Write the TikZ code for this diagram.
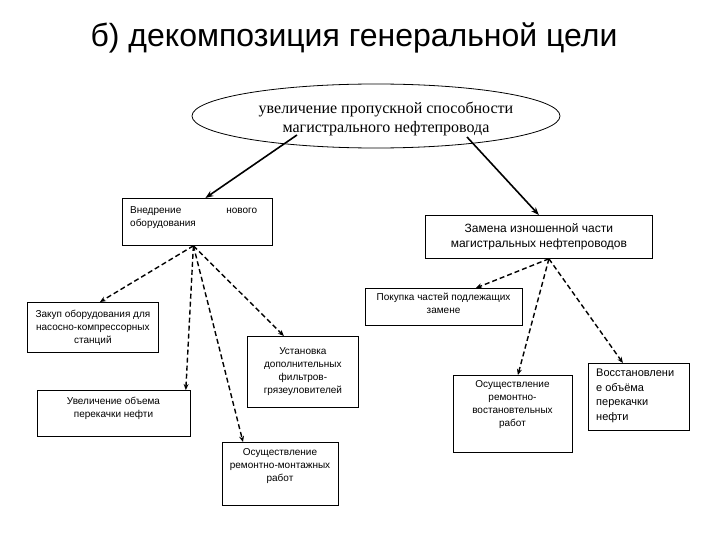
\documentclass[tikz,border=0pt]{standalone}
\usepackage{fontspec}
\setmainfont{Liberation Sans}
\newfontfamily\serifru{Liberation Serif}
\usetikzlibrary{arrows.meta,shapes.geometric}

\tikzset{
  box/.style={draw, line width=0.8pt, anchor=north west, inner sep=0pt},
  txt/.style={align=center, inner sep=0pt, font=\fontsize{10}{13}\selectfont},
  main/.style={line width=1.6pt, -{Stealth[length=8pt,width=6pt]}},
  sub/.style={line width=1.4pt, dash pattern=on 5pt off 3pt, -{Stealth[length=6pt,width=5pt]}},
}

\begin{document}
\begin{tikzpicture}[x=1pt,y=-1pt]
	\useasboundingbox [fill=white] (0,0) rectangle (720,540);
	% Ueberschrift
	\node (title) at (354,38) {\fontsize{32}{38}\selectfont б) декомпозиция генеральной цели};
	% Generalziel
	\node (goal) [draw, ellipse, line width=0.8pt, minimum width=368pt, minimum height=64pt] at (376,116) {};
	\node (goalT) [align=center, inner sep=0pt, font=\serifru\fontsize{16}{19}\selectfont] at (386,119) {увеличение пропускной способности\\магистрального нефтепровода};
	% Zweite Ebene
	\node (vnedr) [box, minimum width=150pt, minimum height=47pt] at (122,198) {};
	\node (vnedrT) [txt, align=left, anchor=north west] at (130,206) {\makebox[127pt]{Внедрение\hfill нового}\\оборудования};
	\node (zamena) [box, minimum width=227pt, minimum height=43pt] at (425,215) {};
	\node (zamenaT) [txt, font=\fontsize{12}{15}\selectfont] at (zamena.center) {Замена изношенной части\\магистральных нефтепроводов};
	% Dritte Ebene links
	\node (zakup) [box, minimum width=131pt, minimum height=50pt] at (27,302) {};
	\node (zakupT) [txt] at (zakup.center) {Закуп оборудования для\\насосно-компрессорных\\станций};
	\node (ustan) [box, minimum width=111pt, minimum height=71pt] at (247,336) {};
	\node (ustanT) [txt] at (ustan.center) {Установка\\дополнительных\\фильтров-\\грязеуловителей};
	\node (uvel) [box, minimum width=153pt, minimum height=46pt] at (37,390) {};
	\node (uvelT) [txt, anchor=north] at (113.5,397) {Увеличение объема\\перекачки нефти};
	\node (remm) [box, minimum width=116pt, minimum height=63pt] at (222,442) {};
	\node (remmT) [txt, anchor=north] at (280,448) {Осуществление\\ремонтно-монтажных\\работ};
	% Dritte Ebene rechts
	\node (pokup) [box, minimum width=157pt, minimum height=37pt] at (365,288) {};
	\node (pokupT) [txt, anchor=north] at (443.5,293) {Покупка частей подлежащих\\замене};
	\node (remv) [box, minimum width=119pt, minimum height=77pt] at (453,375) {};
	\node (remvT) [txt, anchor=north] at (512.5,380) {Осуществление\\ремонтно-\\востановтельных\\работ};
	\node (vosst) [box, minimum width=101pt, minimum height=67pt] at (588,363) {};
	\node (vosstT) [txt, align=left, anchor=north west, font=\fontsize{11}{14.5}\selectfont] at (596,369) {Восстановлени\\е объёма\\перекачки\\нефти};
	% Pfeile
	\draw [main] ([xshift=-79pt,yshift=-19pt]goal.center) -- ([xshift=8pt]vnedr.north);
	\draw [main] ([xshift=91pt,yshift=-21pt]goal.center) -- (zamena.north);
	\draw [sub] ([xshift=-4pt]vnedr.south) -- ([xshift=7pt]zakup.north);
	\draw [sub] ([xshift=-4pt]vnedr.south) -- ([xshift=-5pt]uvel.north east);
	\draw [sub] ([xshift=-4pt]vnedr.south) -- ([xshift=21pt]remm.north west);
	\draw [sub] ([xshift=-4pt]vnedr.south) -- ([xshift=-19pt]ustan.north);
	\draw [sub] ([xshift=10pt]zamena.south) -- ([xshift=32pt]pokup.north);
	\draw [sub] ([xshift=10pt]zamena.south) -- ([xshift=5pt]remv.north);
	\draw [sub] ([xshift=10pt]zamena.south) -- ([xshift=-16pt]vosst.north);
\end{tikzpicture}
\end{document}
